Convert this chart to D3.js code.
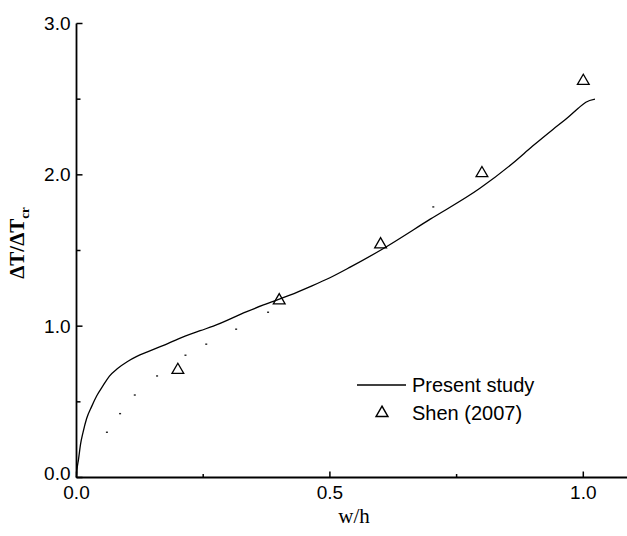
<!DOCTYPE html>
<html>
<head>
<meta charset="utf-8">
<script src="https://cdn.jsdelivr.net/npm/d3@7"></script>
<style>
  html, body { margin: 0; padding: 0; background: #fff; }
  svg { display: block; }
</style>
</head>
<body>
<svg id="chart" width="627" height="536"></svg>
<script>
// Present study: computed critical-temperature ratio curve
const studyX = [0, 0.001, 0.004, 0.008, 0.013, 0.020, 0.030, 0.040, 0.053, 0.065, 0.081, 0.100, 0.119, 0.140, 0.158, 0.180, 0.200, 0.244, 0.270, 0.336, 0.369, 0.421, 0.460, 0.500, 0.540, 0.604, 0.698, 0.796, 0.862, 0.900, 0.940, 0.970, 0.990, 1.005, 1.023];
const studyY = [0, 0.05, 0.12, 0.22, 0.30, 0.39, 0.47, 0.54, 0.61, 0.67, 0.72, 0.765, 0.80, 0.83, 0.855, 0.885, 0.915, 0.97, 1.00, 1.096, 1.14, 1.205, 1.26, 1.32, 1.39, 1.51, 1.707, 1.911, 2.08, 2.19, 2.30, 2.38, 2.44, 2.48, 2.50];

// Shen (2007) reference values
const shenX = [0.2, 0.4, 0.6, 0.8, 1.0];
const shenY = [0.71, 1.17, 1.54, 2.01, 2.62];

// Unlabelled dotted series
const dotX = [0.060, 0.086, 0.115, 0.159, 0.215, 0.256, 0.315, 0.378, 0.704];
const dotY = [0.299, 0.422, 0.545, 0.671, 0.808, 0.881, 0.980, 1.092, 1.788];

// Axis ticks
const xMajor = [0, 0.5, 1.0];
const xMinor = [0.25, 0.75];
const yMajor = [0, 1, 2, 3];
const yMinor = [0.5, 1.5, 2.5];

const legendLabels = ["Present study", "Shen (2007)"];

const svg = d3.select("#chart");
const sans = "'Liberation Sans', Arial, sans-serif";
const serif = "'Liberation Serif', 'Times New Roman', serif";

const x = d3.scaleLinear().domain([0, 1]).range([76.5, 583.3]);
const y = d3.scaleLinear().domain([0, 3]).range([477.5, 23.5]);
const xEnd = 627;

// Axes lines
const axes = svg.append("g").attr("stroke", "#000").attr("stroke-width", 1.8).attr("fill", "none");
axes.append("line").attr("x1", x(0)).attr("x2", xEnd).attr("y1", y(0)).attr("y2", y(0));
axes.append("line").attr("x1", x(0)).attr("x2", x(0)).attr("y1", y(0)).attr("y2", y(3));

// Ticks (pointing inward)
const ticks = svg.append("g").attr("stroke", "#000").attr("stroke-width", 1.5);
xMajor.forEach(v => ticks.append("line").attr("x1", x(v)).attr("x2", x(v)).attr("y1", y(0)).attr("y2", y(0) - 6));
xMinor.forEach(v => ticks.append("line").attr("x1", x(v)).attr("x2", x(v)).attr("y1", y(0)).attr("y2", y(0) - 3.5));
yMajor.forEach(v => ticks.append("line").attr("x1", x(0)).attr("x2", x(0) + 6).attr("y1", y(v)).attr("y2", y(v)));
yMinor.forEach(v => ticks.append("line").attr("x1", x(0)).attr("x2", x(0) + 4).attr("y1", y(v)).attr("y2", y(v)));

// Tick labels
const fmt = d3.format(".1f");
svg.append("g").selectAll("text").data(xMajor).join("text")
  .attr("x", d => x(d)).attr("y", y(0) + 21)
  .attr("text-anchor", "middle")
  .attr("font-family", sans).attr("font-size", 19)
  .text(d => fmt(d));
svg.append("g").selectAll("text").data(yMajor).join("text")
  .attr("x", x(0) - 6).attr("y", d => y(d) - (d === 0 ? 4 : 0))
  .attr("dy", "0.35em")
  .attr("text-anchor", "end")
  .attr("font-family", sans).attr("font-size", 19)
  .text(d => fmt(d));

// Axis titles
svg.append("text")
  .attr("x", 354).attr("y", 523)
  .attr("text-anchor", "middle")
  .attr("font-family", serif).attr("font-size", 21)
  .text("w/h");

const yTitle = svg.append("text")
  .attr("transform", "translate(24,243) rotate(-90)")
  .attr("text-anchor", "middle")
  .attr("font-family", serif).attr("font-size", 21).attr("font-weight", "bold");
yTitle.append("tspan").text("ΔT/ΔT");
yTitle.append("tspan").attr("font-size", 13).attr("dy", 5).text("cr");

// Present study curve
const studyData = studyX.map((v, i) => [v, studyY[i]]);
svg.append("path")
  .datum(studyData)
  .attr("fill", "none").attr("stroke", "#000").attr("stroke-width", 1.3)
  .attr("d", d3.line().x(d => x(d[0])).y(d => y(d[1])).curve(d3.curveMonotoneX));

// Dotted series
svg.append("g").selectAll("rect").data(dotX.map((v, i) => [v, dotY[i]])).join("rect")
  .attr("x", d => x(d[0]) - 1).attr("y", d => y(d[1]) - 0.7)
  .attr("width", 2).attr("height", 1.4)
  .attr("fill", "#222");

// Triangle markers
const tri = d3.symbol().type(d3.symbolTriangle).size(60);
svg.append("g").selectAll("path").data(shenX.map((v, i) => [v, shenY[i]])).join("path")
  .attr("transform", d => `translate(${x(d[0])},${y(d[1])})`)
  .attr("d", tri)
  .attr("fill", "none").attr("stroke", "#000").attr("stroke-width", 1.3);

// Legend
const lg = svg.append("g").attr("font-family", sans).attr("font-size", 20);
lg.append("line").attr("x1", 357).attr("x2", 406).attr("y1", 385).attr("y2", 385)
  .attr("stroke", "#000").attr("stroke-width", 1.3);
lg.append("text").attr("x", 412).attr("y", 385).attr("dy", "0.35em").text(legendLabels[0]);
lg.append("path").attr("transform", "translate(382,413)").attr("d", tri)
  .attr("fill", "none").attr("stroke", "#000").attr("stroke-width", 1.5);
lg.append("text").attr("x", 412).attr("y", 413).attr("dy", "0.35em").text(legendLabels[1]);
</script>
</body>
</html>
